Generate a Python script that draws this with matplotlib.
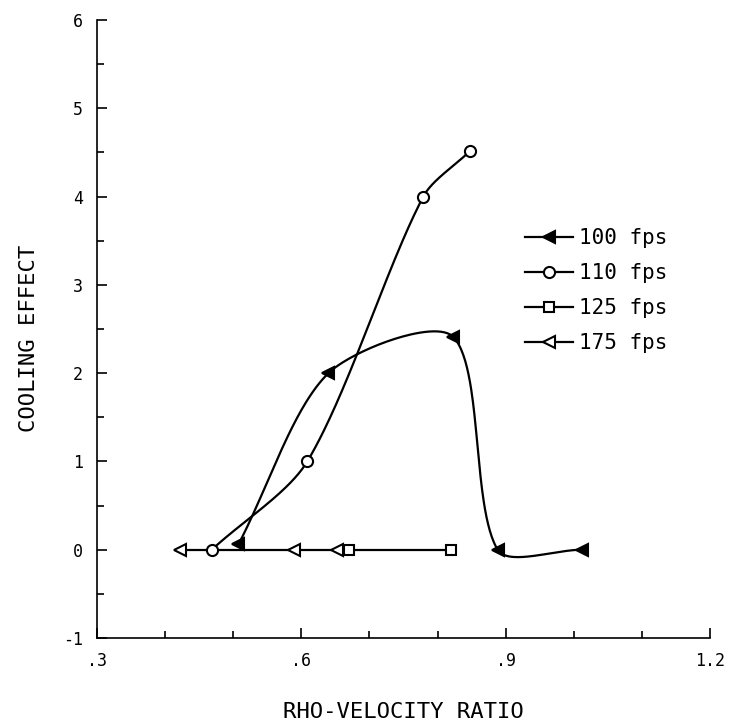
import matplotlib
matplotlib.use('Agg')
import matplotlib.pyplot as plt
import numpy as np

# data
x_100 = [0.508, 0.640, 0.823, 0.888, 1.012]
y_100 = [0.06, 2.00, 2.41, 0.00, 0.00]
x_110 = [0.469, 0.609, 0.779, 0.848]
y_110 = [0.00, 1.00, 4.00, 4.52]
x_125 = [0.670, 0.819]
y_125 = [0.00, 0.00]
x_175 = [0.423, 0.589, 0.653]
y_175 = [0.00, 0.00, 0.00]
labels = ['100 fps', '110 fps', '125 fps', '175 fps']

x_ticks = [0.3, 0.6, 0.9, 1.2]
x_ticklabels = ['.3', '.6', '.9', '1.2']
y_ticks = [-1, 0, 1, 2, 3, 4, 5, 6]
y_ticklabels = ['-1', '0', '1', '2', '3', '4', '5', '6']


def smooth(xs, ys, n=60, tension=0.42):
    # hermite curve through the points, finite-difference tangents
    xs = np.asarray(xs, float); ys = np.asarray(ys, float)
    if len(xs) < 3:
        return xs, ys
    P = np.column_stack([(xs - 0.3) / 0.9 * 614, (ys + 1) / 7 * 618])
    h = np.hypot(*np.diff(P, axis=0).T)
    k = len(P)
    M = np.zeros_like(P)
    for i in range(1, k - 1):
        M[i] = tension * 2 * (P[i + 1] - P[i - 1]) / (h[i - 1] + h[i])
    M[0] = (P[1] - P[0]) / h[0]
    M[-1] = (P[-1] - P[-2]) / h[-1]
    out = []
    s = np.linspace(0, 1, n)
    h00 = 2 * s**3 - 3 * s**2 + 1; h10 = s**3 - 2 * s**2 + s
    h01 = -2 * s**3 + 3 * s**2; h11 = s**3 - s**2
    for i in range(k - 1):
        seg = (np.outer(h00, P[i]) + np.outer(h10, M[i] * h[i])
               + np.outer(h01, P[i + 1]) + np.outer(h11, M[i + 1] * h[i]))
        out.append(seg if i == 0 else seg[1:])
    out = np.vstack(out)
    return out[:, 0] / 614 * 0.9 + 0.3, out[:, 1] / 618 * 7 - 1


plt.rcParams.update({'font.family': 'DejaVu Sans Mono', 'font.size': 12})

fig = plt.figure(figsize=(7.29, 7.23), dpi=100)
ax = fig.add_axes([0.1324, 0.1176, 0.8422, 0.8547])

series = [
    (x_100, y_100, dict(marker='<', markerfacecolor='black', markersize=8)),
    (x_110, y_110, dict(marker='o', markerfacecolor='white', markersize=8)),
    (x_125, y_125, dict(marker='s', markerfacecolor='white', markersize=7)),
    (x_175, y_175, dict(marker='<', markerfacecolor='white', markersize=8)),
]
handles = []
for (xs, ys, mk), lab in zip(series, labels):
    sx, sy = smooth(xs, ys)
    ax.plot(sx, sy, color='black', lw=1.6, zorder=2)
    ax.plot(xs, ys, ls='none', color='black', markeredgewidth=1.5, zorder=3, **mk)
    h, = ax.plot([], [], color='black', lw=1.6, markeredgewidth=1.5, label=lab, **mk)
    handles.append(h)

# 125 fps line joins onto the 175 fps line
ax.plot([x_175[-1], x_125[0]], [0, 0], color='black', lw=1.6, zorder=2)

ax.set_xlim(0.3, 1.2)
ax.set_ylim(-1, 6)
ax.set_xticks(x_ticks)
ax.set_xticklabels(x_ticklabels)
ax.set_xticks(np.arange(0.3, 1.21, 0.1), minor=True)
ax.set_yticks(y_ticks)
ax.set_yticklabels(y_ticklabels)
ax.set_yticks(np.arange(-1, 6.01, 0.5), minor=True)
ax.tick_params(which='both', direction='in', width=1.2, labelsize=12)
ax.tick_params(which='major', length=7, pad=10)
ax.tick_params(which='minor', length=5)

for s in ['top', 'right']:
    ax.spines[s].set_visible(False)
for s in ['left', 'bottom']:
    ax.spines[s].set_linewidth(1.2)

ax.set_xlabel('RHO-VELOCITY RATIO', fontsize=16, va='center')
ax.xaxis.set_label_coords(0.5, -0.12)
ax.set_ylabel('COOLING EFFECT', fontsize=16, va='center')
ax.yaxis.set_label_coords(-0.11, 0.485)

ax.legend(handles=handles, loc='upper left', bbox_to_anchor=(0.667, 0.693),
          frameon=False, numpoints=1, handlelength=2.3, handletextpad=0.3,
          labelspacing=0.72, fontsize=15)

fig.savefig('out.png', dpi=100)
